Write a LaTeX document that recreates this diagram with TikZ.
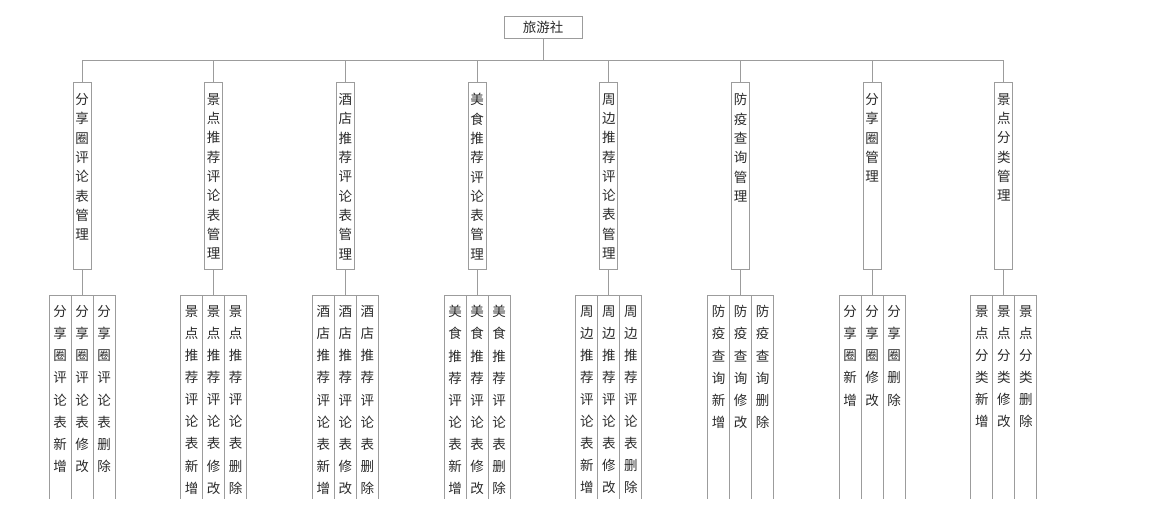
\documentclass[tikz,border=0pt]{standalone}
\usepackage{fontspec}
\setmainfont{Noto Sans CJK SC}
\definecolor{linegray}{HTML}{9C9C9C}
\definecolor{txtgray}{HTML}{2A2A2A}
\makeatletter
\def\vstack#1{\edef\vtmp{#1}\expandafter\vstackA\vtmp\relax}
\def\vstackA#1{\ifx#1\relax\else#1\par\expandafter\vstackA\fi}
\makeatother
\newcommand\midtext[1]{\parbox[c][187pt][t]{18pt}{\fontsize{13.5pt}{19.3pt}\selectfont\centering\vspace*{11.5pt}\vstack{#1}}}
\newcommand\leaftext[1]{\parbox[c][240pt][t]{22pt}{\fontsize{13.5pt}{22.1pt}\selectfont\centering\vspace*{10.5pt}\vstack{#1}}}
\tikzset{
  conn/.style={draw=linegray, line width=0.9pt},
  rootbox/.style={draw=linegray, line width=0.9pt, fill=white, inner sep=0pt, minimum width=78pt, minimum height=22pt, text=txtgray, font=\fontsize{13.5pt}{15pt}\selectfont},
  midbox/.style={draw=linegray, line width=0.9pt, fill=white, inner sep=0pt, minimum width=18pt, minimum height=187pt, text=txtgray},
  leafbox/.style={draw=linegray, line width=0.9pt, inner sep=0pt, minimum width=22pt, minimum height=240pt, text=txtgray},
}
\begin{document}
\begin{tikzpicture}[x=1pt, y=-1pt]
\useasboundingbox (0,0) rectangle (1166,516);
\clip (0,0) rectangle (1166,498);
\node[rootbox] (root) at (543,27) {旅游社};
\coordinate (bus) at (543,60);
\draw[conn] (root.south) -- (bus);
\foreach \p [count=\i] in {分享圈评论表,景点推荐评论表,酒店推荐评论表,美食推荐评论表,周边推荐评论表,防疫查询,分享圈,景点分类}{
  \pgfmathsetmacro\xx{82+131.7*(\i-1)}
  \draw[conn] (\xx,82) |- (bus);
  \node[midbox] (m\i) at (\xx,175.5) {\midtext{\p 管理}};
  \node[leafbox] (a\i) at (\xx-22,415) {\leaftext{\p 新增}};
  \node[leafbox] (b\i) at (\xx,415) {\leaftext{\p 修改}};
  \node[leafbox] (c\i) at (\xx+22,415) {\leaftext{\p 删除}};
  \draw[conn] (m\i.south) -- (b\i.north);
}
\end{tikzpicture}
\end{document}
